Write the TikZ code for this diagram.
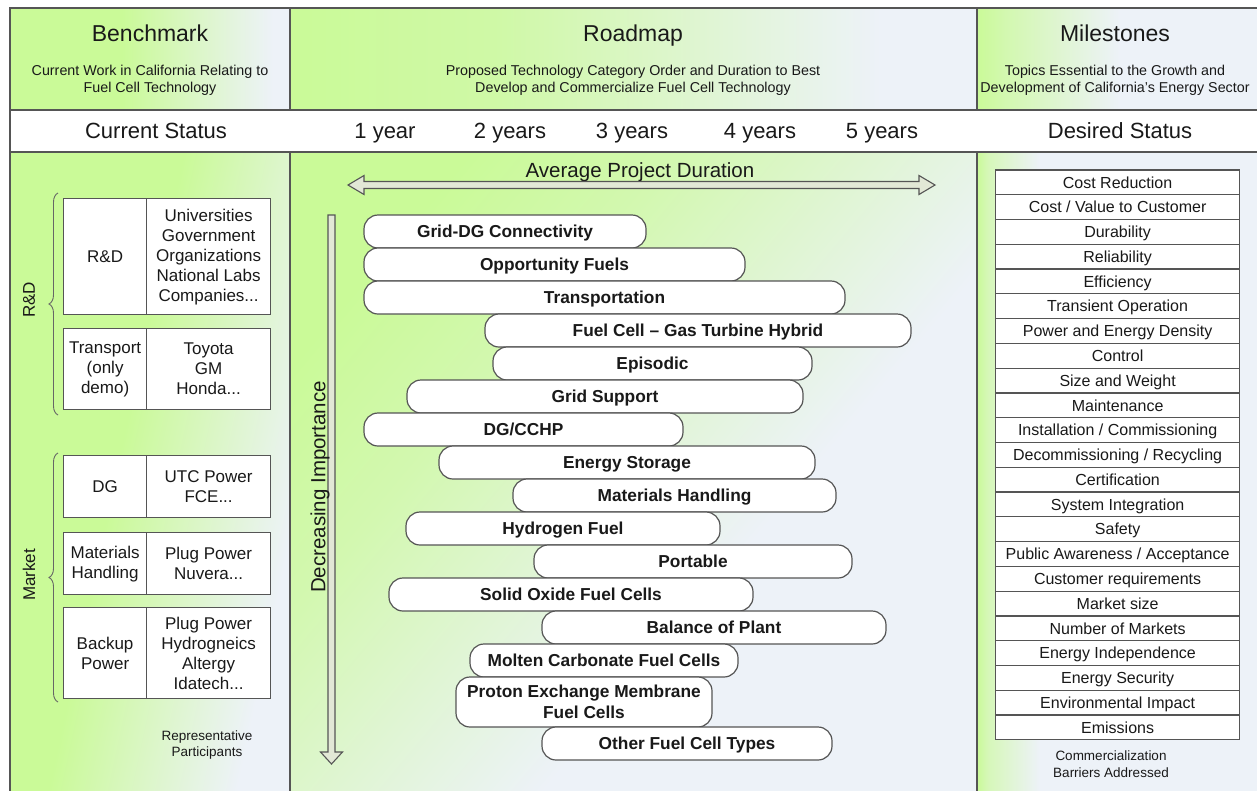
\documentclass[tikz,border=0pt]{standalone}
\usepackage{fontspec}
\setmainfont{Liberation Sans}
\usetikzlibrary{decorations.pathreplacing}
\definecolor{gG}{RGB}{202,250,152}
\definecolor{gP}{RGB}{237,242,248}
\definecolor{ln}{RGB}{85,85,85}
\definecolor{tx}{RGB}{25,25,25}
\definecolor{arrfill}{RGB}{226,232,214}
\pgfdeclarehorizontalshading{shL}{100bp}{color(0bp)=(gG); color(25bp)=(gG); color(45bp)=(gG); color(72bp)=(gP); color(100bp)=(gP)}
\pgfdeclarehorizontalshading{shM}{100bp}{color(0bp)=(gG); color(25bp)=(gG); color(40bp)=(gG!85!gP); color(68bp)=(gP); color(100bp)=(gP)}
\pgfdeclarehorizontalshading{shMB}{100bp}{color(0bp)=(gG); color(25bp)=(gG); color(37bp)=(gG!75!gP); color(60bp)=(gP); color(100bp)=(gP)}
\pgfdeclarehorizontalshading{shR}{100bp}{color(0bp)=(gG); color(25bp)=(gG); color(30bp)=(gG!75!gP); color(50bp)=(gP); color(100bp)=(gP)}
\pgfdeclarehorizontalshading{shRB}{100bp}{color(0bp)=(gG); color(25bp)=(gG); color(27bp)=(gG!65!gP); color(36bp)=(gP); color(100bp)=(gP)}
\newcommand\FTitle{\fontsize{23}{27}\selectfont}
\newcommand\FSub{\fontsize{14.3}{17}\selectfont}
\newcommand\FStat{\fontsize{22}{26}\selectfont}
\newcommand\FCell{\fontsize{17}{20}\selectfont}
\newcommand\FBar{\fontsize{17.3}{21}\selectfont\bfseries}
\newcommand\FRow{\fontsize{16}{19}\selectfont}
\newcommand\FNote{\fontsize{13.5}{16.5}\selectfont}
\newcommand\FAxis{\fontsize{20.5}{24}\selectfont}
\tikzset{
  frame/.style={draw=ln, line width=1.5pt},
  ttl/.style={text=tx, font=\FTitle, inner sep=0pt, text height=16.5pt, text depth=0pt},
  sub/.style={text=tx, font=\FSub, align=center, inner sep=0pt},
  stat/.style={text=tx, font=\FStat, inner sep=0pt, text height=15.8pt, text depth=0pt},
  cell/.style={draw=ln, fill=white, line width=1.2pt, text=tx, font=\FCell, align=center, inner sep=0pt, anchor=north west},
  bar/.style={draw=ln, fill=white, line width=1.2pt, rounded corners=14pt, text=tx, font=\FBar, align=center, inner sep=0pt},
  onebar/.style={bar, text height=12.4pt, text depth=0pt, minimum height=33pt},
  row/.style={draw=ln, fill=white, line width=1.2pt, text=tx, font=\FRow, inner sep=0pt, minimum width=244pt, minimum height=24.78pt, anchor=north west, text height=11.5pt, text depth=0pt},
  note/.style={text=tx, font=\FNote, align=center, inner sep=0pt},
  axislab/.style={text=tx, font=\FAxis, inner sep=0pt, text height=14.7pt, text depth=0pt},
  bracestyle/.style={draw=black!60, line width=0.9pt, decorate, decoration={brace, amplitude=9pt}},
  blockarrow/.style={draw=ln, fill=arrfill, line width=1.1pt, line join=miter}
}
\begin{document}
\begin{tikzpicture}[x=1pt,y=-1pt]
\useasboundingbox (0,0) rectangle (1257,790);
\clip (0,0) rectangle (1257,790);
\fill[white] (0,0) rectangle (1257,790);
% panels
\path[shading=shL] (10,8) rectangle (290,110);
\path[shading=shM] (290,8) rectangle (977,110);
\path[shading=shR] (977,8) rectangle (1262,110);
\fill[white] (10,110) rectangle (1262,152);
\path[shading=shL, shading angle=-12] (10,152) rectangle (290,800);
\path[shading=shMB, shading angle=-40] (290,152) rectangle (977,800);
\path[shading=shRB] (977,152) rectangle (1262,800);
% frame lines
\draw[frame] (10,8) rectangle (1262,800);
\draw[frame] (10,110) -- (1262,110);
\draw[frame] (10,152) -- (1262,152);
\draw[frame] (290,8) -- (290,110);
\draw[frame] (290,152) -- (290,800);
\draw[frame] (977,8) -- (977,110);
\draw[frame] (977,152) -- (977,800);
% headers
\node[ttl] (bench) at (150,33) {Benchmark};
\node[sub] (benchsub) at (150,80) {Current Work in California Relating to\\Fuel Cell Technology};
\node[ttl] (road) at (633,33) {Roadmap};
\node[sub] (roadsub) at (633,80) {Proposed Technology Category Order and Duration to Best\\Develop and Commercialize Fuel Cell Technology};
\node[ttl] (mile) at (1115,33) {Milestones};
\node[sub] (milesub) at (1115,80) {Topics Essential to the Growth and\\Development of California's Energy Sector};
% status row
\node[stat] (cur) at (156,131) {Current Status};
\node[stat] (y1) at (385,131) {1 year};
\node[stat] (y2) at (510,131) {2 years};
\node[stat] (y3) at (632,131) {3 years};
\node[stat] (y4) at (760,131) {4 years};
\node[stat] (y5) at (882,131) {5 years};
\node[stat] (des) at (1120,131) {Desired Status};
% left column
\node[cell, minimum width=83pt, minimum height=116pt] (rdA) at (63,198) {R\&D};
\node[cell, minimum width=124pt, minimum height=116pt] (rdB) at (146,198) {Universities\\Government\\Organizations\\National Labs\\Companies...};
\node[cell, minimum width=83pt, minimum height=81pt] (trA) at (63,328) {Transport\\(only\\demo)};
\node[cell, minimum width=124pt, minimum height=81pt] (trB) at (146,328) {Toyota\\GM\\Honda...};
\node[cell, minimum width=83pt, minimum height=62pt] (dgA) at (63,455) {DG};
\node[cell, minimum width=124pt, minimum height=62pt] (dgB) at (146,455) {UTC Power\\FCE...};
\node[cell, minimum width=83pt, minimum height=62pt] (mhA) at (63,532) {Materials\\Handling};
\node[cell, minimum width=124pt, minimum height=62pt] (mhB) at (146,532) {Plug Power\\Nuvera...};
\node[cell, minimum width=83pt, minimum height=91pt] (bpA) at (63,607) {Backup\\Power};
\node[cell, minimum width=124pt, minimum height=91pt] (bpB) at (146,607) {Plug Power\\Hydrogneics\\Altergy\\Idatech...};
\coordinate (brA1) at (58,415);
\coordinate (brA2) at (58,193);
\coordinate (brB1) at (58,702);
\coordinate (brB2) at (58,453);
\draw[bracestyle] (brA1) -- (brA2);
\draw[bracestyle] (brB1) -- (brB2);
\node[text=tx, font=\FCell, rotate=90, inner sep=0pt] (rdlab) at (29,300) {R\&D};
\node[text=tx, font=\FCell, rotate=90, inner sep=0pt] (mklab) at (29,575) {Market};
\node[note] (rep) at (207,745) {Representative\\Participants};
% middle column arrows
\node[axislab] (avg) at (640,170.5) {Average Project Duration};
\draw[blockarrow] (348,185) -- (364,175.5) -- (364,181.5) -- (919,181.5) -- (919,175.5) -- (935,185) -- (919,194.5) -- (919,188.5) -- (364,188.5) -- (364,194.5) -- cycle;
\draw[blockarrow] (328,215) -- (335,215) -- (335,752) -- (342.5,752) -- (331.5,764) -- (320.5,752) -- (328,752) -- cycle;
\node[axislab, rotate=90] (dec) at (318,487) {Decreasing Importance};
% bars
\node[onebar, minimum width=282pt] (b1) at (505,231.5) {Grid-DG Connectivity};
\node[onebar, minimum width=381pt] (b2) at (554.5,264.5) {Opportunity Fuels};
\node[onebar, minimum width=481pt] (b3) at (604.5,297.5) {Transportation};
\node[onebar, minimum width=426pt] (b4) at (698,330.5) {Fuel Cell -- Gas Turbine Hybrid};
\node[onebar, minimum width=319pt] (b5) at (652.5,363.5) {Episodic};
\node[onebar, minimum width=396pt] (b6) at (605,396.5) {Grid Support};
\node[onebar, minimum width=319pt] (b7) at (523.5,429.5) {DG/CCHP};
\node[onebar, minimum width=376pt] (b8) at (627,462.5) {Energy Storage};
\node[onebar, minimum width=323pt] (b9) at (674.5,495.5) {Materials Handling};
\node[onebar, minimum width=314pt] (b10) at (563,528.5) {Hydrogen Fuel};
\node[onebar, minimum width=318pt] (b11) at (693,561.5) {Portable};
\node[onebar, minimum width=364pt] (b12) at (571,594.5) {Solid Oxide Fuel Cells};
\node[onebar, minimum width=344pt] (b13) at (714,627.5) {Balance of Plant};
\node[onebar, minimum width=268pt] (b14) at (604,660.5) {Molten Carbonate Fuel Cells};
\node[bar, minimum width=256pt, minimum height=50pt] (b15) at (584,702) {Proton Exchange Membrane\\Fuel Cells};
\node[onebar, minimum width=290pt] (b16) at (687,743.5) {Other Fuel Cell Types};
% right column table
\foreach \i/\t in {1/{Cost Reduction}, 2/{Cost / Value to Customer}, 3/{Durability}, 4/{Reliability}, 5/{Efficiency}, 6/{Transient Operation}, 7/{Power and Energy Density}, 8/{Control}, 9/{Size and Weight}, 10/{Maintenance}, 11/{Installation / Commissioning}, 12/{Decommissioning / Recycling}, 13/{Certification}, 14/{System Integration}, 15/{Safety}, 16/{Public Awareness / Acceptance}, 17/{Customer requirements}, 18/{Market size}, 19/{Number of Markets}, 20/{Energy Independence}, 21/{Energy Security}, 22/{Environmental Impact}, 23/{Emissions}}
  \node[row] (m\i) at (995,{169.3+(\i-1)*24.78}) {\t};
\node[note] (comm) at (1111,764) {Commercialization\\Barriers Addressed};
\end{tikzpicture}
\end{document}
